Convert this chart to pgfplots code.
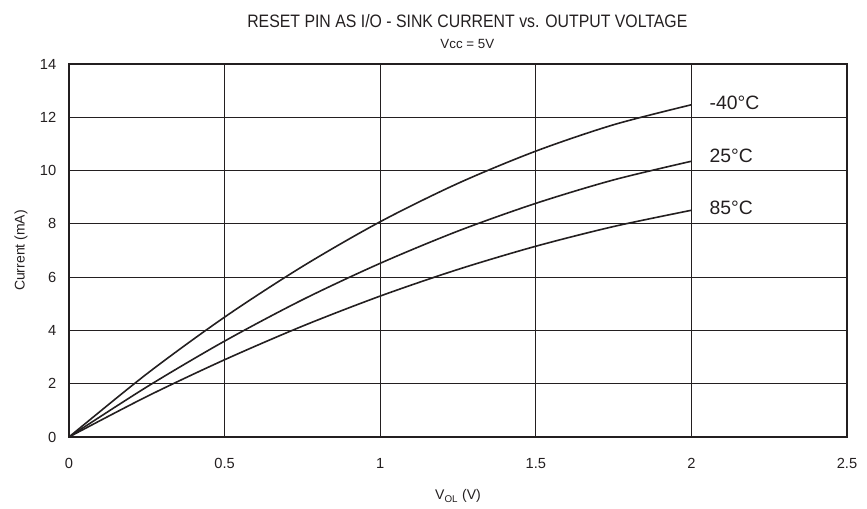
\documentclass[border=0pt]{standalone}
\usepackage{fontspec}
\setmainfont{Liberation Sans}
\newfontfamily\titlefont[FakeStretch=0.88]{Liberation Sans}
\usepackage{pgfplots}
\pgfplotsset{compat=1.18}
\definecolor{ink}{RGB}{35,31,32}

% one reference pixel = 0.75pt
\begin{document}
\begin{tikzpicture}
\begin{axis}[
    scale only axis,
    width=583.5pt, height=279.75pt,
    xmin=0, xmax=2.5, ymin=0, ymax=14,
    xtick={0,0.5,...,2.5}, ytick={0,2,...,14},
    grid=major,
    major grid style={ink, line width=0.9pt},
    axis line style={ink, line width=1.8pt},
    tick style={draw=none},
    /pgf/number format/assume math mode=true,
    ticklabel style={font=\fontsize{11}{13}\selectfont, text=ink},
    xticklabel style={anchor=center, yshift=-20pt},
    yticklabel style={anchor=east, xshift=-6pt},
    clip=false,
]
% -40 C
\addplot[ink, line width=1.2pt, smooth] coordinates {
    (0,0) (0.25,2.37) (0.5,4.50) (0.75,6.40) (1,8.08) (1.25,9.52) (1.5,10.73) (1.75,11.72) (2,12.47)};
% 25 C
\addplot[ink, line width=1.2pt, smooth] coordinates {
    (0,0) (0.25,1.88) (0.5,3.60) (0.75,5.15) (1,6.52) (1.25,7.73) (1.5,8.77) (1.75,9.65) (2,10.35)};
% 85 C
\addplot[ink, line width=1.2pt, smooth] coordinates {
    (0,0) (0.25,1.52) (0.5,2.90) (0.75,4.16) (1,5.29) (1.25,6.29) (1.5,7.16) (1.75,7.90) (2,8.51)};
\node[anchor=west, inner sep=0pt, text=ink, font=\fontsize{14.5}{16}\selectfont] at (axis cs:2.058,12.55) {-40°C};
\node[anchor=west, inner sep=0pt, text=ink, font=\fontsize{14.5}{16}\selectfont] at (axis cs:2.058,10.56) {25°C};
\node[anchor=west, inner sep=0pt, text=ink, font=\fontsize{14.5}{16}\selectfont] at (axis cs:2.058,8.61) {85°C};
\node[text=ink, font=\titlefont\fontsize{13.5}{15}\selectfont] at ([yshift=32pt]rel axis cs:0.512,1) {RESET PIN AS I/O - SINK CURRENT vs. OUTPUT VOLTAGE};
\node[text=ink, font=\fontsize{10}{12}\selectfont] at ([yshift=15pt]rel axis cs:0.512,1) {Vcc = 5V};
\node[text=ink, font=\fontsize{10.5}{12}\selectfont] at ([yshift=-44.5pt]rel axis cs:0.5,0) {V\textsubscript{OL} (V)};
\node[text=ink, rotate=90, font=\fontsize{10.5}{12}\selectfont] at ([xshift=-36pt]rel axis cs:0,0.5) {Current (mA)};
\coordinate (sw) at (rel axis cs:0,0);
\coordinate (ne) at (rel axis cs:1,1);
\end{axis}
\pgfresetboundingbox
\path ([shift={(-51.75pt,-53.25pt)}]sw) rectangle ([shift={(15pt,48pt)}]ne);
\end{tikzpicture}
\end{document}
